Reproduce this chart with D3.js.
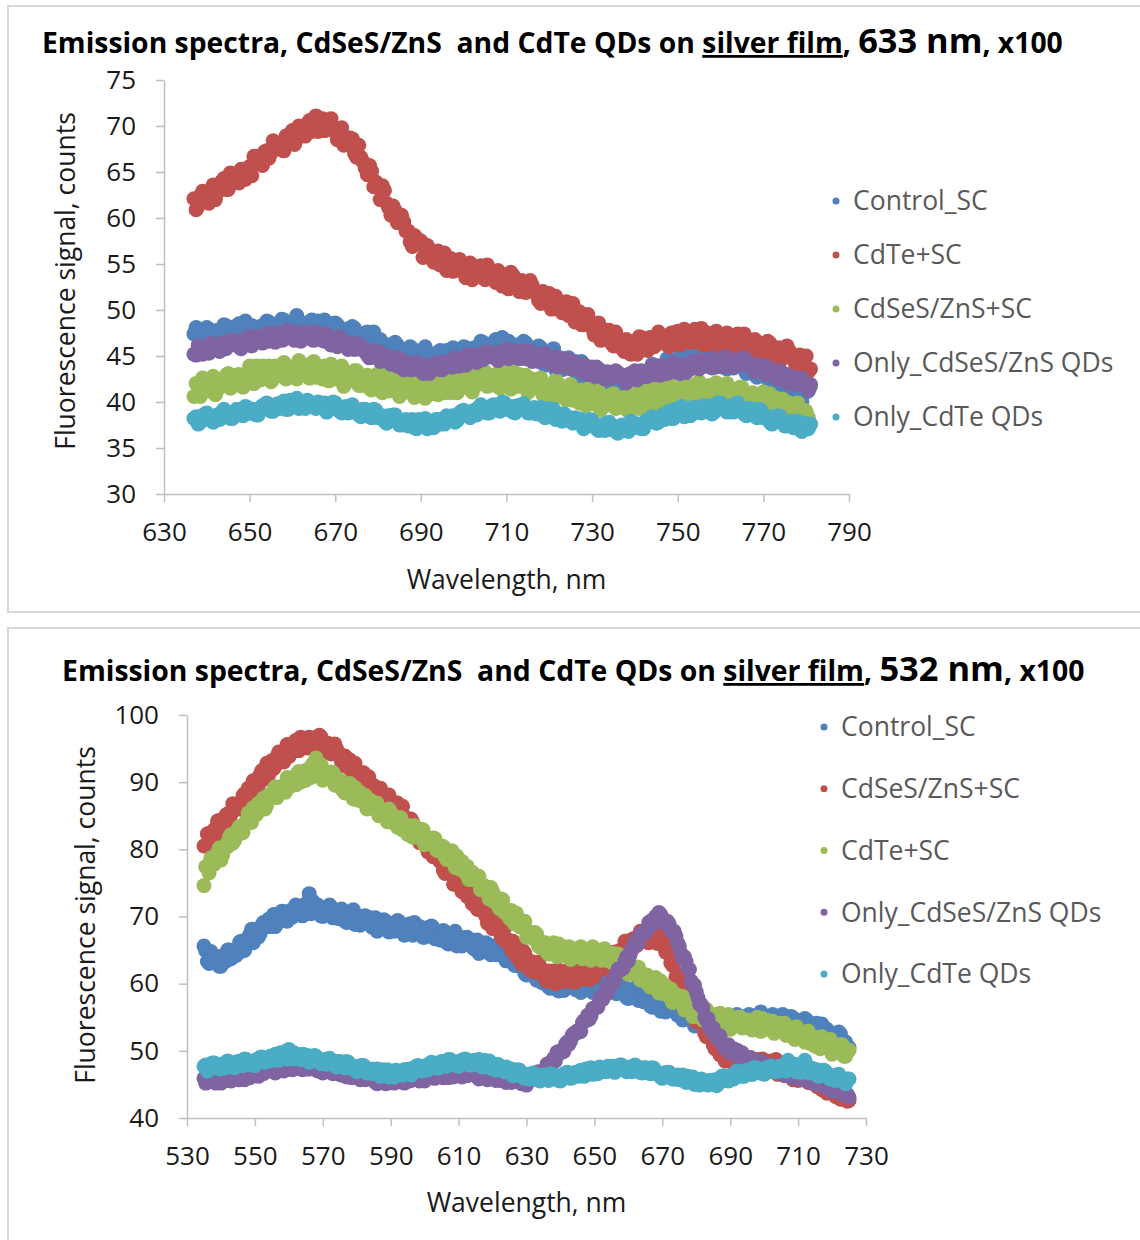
<!DOCTYPE html>
<html>
<head>
<meta charset="utf-8">
<script src="https://cdn.jsdelivr.net/npm/d3@7"></script>
<style>
  html, body { margin: 0; padding: 0; background: #fff; }
  svg { display: block; }
  text { font-family: "Open Sans", "Noto Sans", sans-serif; }
</style>
</head>
<body>
<svg id="fig" width="1140" height="1240"></svg>
<script>
// ---------- Upper chart: 633 nm excitation, spectra sampled every 0.5 nm from 637 nm ----------
const start633 = 637;
const step633 = 0.5;
const names633 = ["Control_SC", "CdTe+SC", "CdSeS/ZnS+SC", "Only_CdSeS/ZnS QDs", "Only_CdTe QDs"];
const xTicks633 = [630, 650, 670, 690, 710, 730, 750, 770, 790];
const yTicks633 = [30, 35, 40, 45, 50, 55, 60, 65, 70, 75];

const control633 = [
  47.4, 48.1, 46.2, 46.5, 47.9, 47.6, 48.1, 47.9, 46.8, 46.4, 47.5, 47.8, 46.7, 46.9, 48.4, 48.3, 47.1, 47.3, 46.6, 47.0,
  48.3, 48.5, 47.0, 46.9, 48.8, 48.0, 47.3, 48.3, 47.9, 46.8, 46.8, 48.2, 48.3, 47.3, 48.8, 48.7, 47.2, 47.7, 47.9, 47.4,
  47.5, 49.0, 48.9, 47.3, 47.2, 48.5, 48.6, 48.8, 49.4, 47.2, 48.0, 48.6, 47.4, 47.7, 48.7, 48.9, 48.0, 47.9, 48.8, 47.5,
  48.2, 48.9, 46.9, 47.1, 48.5, 48.2, 48.6, 48.4, 47.2, 46.6, 47.6, 47.9, 46.7, 46.8, 48.2, 48.0, 46.7, 46.8, 46.0, 46.3,
  47.5, 47.6, 46.0, 45.8, 47.6, 46.7, 45.9, 46.8, 46.3, 45.0, 44.9, 46.2, 46.2, 45.1, 46.5, 46.2, 44.6, 45.1, 45.2, 44.6,
  44.6, 46.0, 45.8, 44.2, 44.0, 45.2, 45.2, 45.4, 46.0, 43.8, 44.6, 45.2, 44.0, 44.3, 45.4, 45.6, 44.7, 44.7, 45.6, 44.3,
  45.1, 45.9, 44.0, 44.3, 45.7, 45.5, 46.0, 45.9, 44.8, 44.4, 45.5, 45.9, 44.8, 45.1, 46.6, 46.5, 45.3, 45.6, 44.9, 45.2,
  46.5, 46.8, 45.3, 45.1, 47.0, 46.3, 45.6, 46.6, 46.1, 44.9, 44.8, 46.2, 46.2, 45.2, 46.6, 46.4, 44.8, 45.3, 45.4, 44.7,
  44.7, 46.1, 45.9, 44.2, 44.0, 45.2, 45.2, 45.3, 45.8, 43.5, 44.2, 44.8, 43.5, 43.7, 44.7, 44.8, 43.8, 43.6, 44.4, 43.0,
  43.7, 44.4, 42.4, 42.5, 43.8, 43.4, 43.8, 43.5, 42.3, 41.7, 42.7, 42.9, 41.7, 41.8, 43.2, 42.9, 41.6, 41.8, 41.0, 41.3,
  42.5, 42.7, 41.1, 41.0, 43.0, 42.4, 41.8, 42.9, 42.6, 41.5, 41.6, 43.1, 43.3, 42.5, 44.1, 44.0, 42.6, 43.2, 43.5, 43.0,
  43.2, 44.7, 44.6, 43.1, 43.1, 44.4, 44.6, 44.9, 45.5, 43.4, 44.2, 44.8, 43.6, 44.0, 45.1, 45.4, 44.5, 44.4, 45.3, 44.0,
  44.8, 45.6, 43.7, 43.9, 45.3, 45.0, 45.5, 45.3, 44.1, 43.6, 44.6, 44.9, 43.7, 43.9, 45.3, 45.1, 43.8, 43.9, 43.1, 43.3,
  44.5, 44.6, 43.0, 42.7, 44.5, 43.6, 42.8, 43.7, 43.2, 41.9, 41.7, 43.0, 43.0, 41.9, 43.2, 42.9, 41.2, 41.6, 41.7, 41.0,
  40.9, 42.2, 42.0, 40.3, 40.0, 41.1, 41.1, 41.2, 41.7
];
const cdteSC633 = [
  62.1, 60.9, 61.3, 62.4, 62.9, 62.3, 62.0, 61.6, 62.8, 63.6, 62.0, 62.8, 63.6, 64.0, 64.3, 63.1, 63.1, 64.9, 64.0, 64.1,
  63.9, 63.8, 65.3, 65.3, 64.2, 65.3, 65.6, 64.6, 66.7, 66.7, 65.9, 66.0, 65.7, 67.2, 67.3, 66.5, 67.1, 68.4, 68.1, 67.6,
  68.1, 67.4, 67.3, 68.9, 69.0, 68.8, 69.5, 68.0, 68.6, 70.0, 69.4, 69.1, 68.9, 70.2, 70.6, 69.4, 69.7, 71.1, 69.4, 70.1,
  70.8, 69.5, 69.7, 70.6, 70.8, 69.9, 69.3, 68.5, 69.4, 69.8, 67.9, 68.3, 68.7, 68.7, 68.6, 67.0, 66.6, 67.9, 66.6, 66.1,
  65.4, 64.7, 65.7, 65.1, 63.4, 63.9, 63.6, 62.0, 63.5, 63.0, 61.6, 61.1, 60.3, 61.3, 60.8, 59.5, 59.5, 60.3, 59.6, 58.6,
  58.6, 57.4, 56.9, 58.1, 57.8, 57.2, 57.5, 55.7, 56.0, 57.0, 56.1, 55.6, 55.2, 56.3, 56.4, 54.9, 55.0, 56.2, 54.3, 55.0,
  55.6, 54.2, 54.3, 55.2, 55.5, 54.7, 54.2, 53.5, 54.5, 55.1, 53.3, 53.9, 54.5, 54.7, 54.8, 53.5, 53.3, 54.9, 53.8, 53.7,
  53.3, 53.0, 54.3, 54.0, 52.6, 53.5, 53.6, 52.3, 54.1, 53.8, 52.7, 52.5, 52.0, 53.2, 53.0, 51.9, 52.2, 53.2, 52.7, 51.9,
  52.0, 51.0, 50.7, 52.0, 51.8, 51.3, 51.8, 50.1, 50.4, 51.5, 50.7, 50.2, 49.7, 50.8, 50.9, 49.4, 49.5, 50.7, 48.7, 49.3,
  49.8, 48.4, 48.4, 49.3, 49.5, 48.6, 48.0, 47.3, 48.2, 48.6, 46.7, 47.2, 47.7, 47.8, 47.8, 46.4, 46.1, 47.6, 46.5, 46.3,
  45.8, 45.5, 46.8, 46.6, 45.2, 46.1, 46.3, 45.2, 47.1, 47.0, 46.0, 46.0, 45.6, 47.0, 46.9, 46.0, 46.4, 47.6, 47.3, 46.7,
  47.0, 46.2, 46.0, 47.5, 47.5, 47.1, 47.7, 46.2, 46.7, 47.9, 47.2, 46.8, 46.5, 47.7, 47.9, 46.5, 46.7, 48.0, 46.2, 46.9,
  47.5, 46.2, 46.4, 47.4, 47.7, 46.9, 46.5, 45.9, 46.9, 47.5, 45.8, 46.4, 47.0, 47.2, 47.4, 46.0, 45.8, 47.4, 46.3, 46.2,
  45.8, 45.5, 46.8, 46.5, 45.1, 46.0, 46.1, 44.8, 46.6, 46.4, 45.3, 45.2, 44.7, 45.9, 45.7, 44.7, 45.0, 46.1, 45.6, 44.9,
  45.1, 44.1, 43.8, 45.1, 45.0, 44.5, 45.0, 43.3, 43.6
];
const cdsesSC633 = [
  40.6, 42.0, 41.9, 40.6, 42.6, 41.8, 41.2, 41.3, 42.4, 42.8, 40.8, 41.3, 42.2, 42.3, 41.8, 42.9, 43.1, 41.5, 41.7, 42.4,
  42.9, 43.0, 41.8, 41.6, 42.8, 42.9, 43.9, 42.4, 42.0, 43.9, 43.3, 42.4, 43.9, 43.4, 42.7, 43.9, 42.2, 42.5, 43.9, 43.4,
  43.1, 43.9, 44.3, 42.5, 42.8, 43.6, 43.8, 43.1, 42.5, 44.5, 44.2, 42.9, 43.9, 43.8, 42.6, 44.2, 44.4, 42.7, 43.0, 43.4,
  42.5, 43.9, 43.6, 42.3, 44.1, 43.3, 42.5, 42.6, 43.5, 43.9, 41.7, 42.2, 42.9, 43.0, 42.3, 43.4, 43.4, 41.8, 41.8, 42.5,
  42.8, 42.9, 41.5, 41.3, 42.2, 42.3, 43.1, 41.6, 41.0, 42.9, 42.1, 41.2, 42.5, 42.0, 41.3, 42.5, 40.6, 40.9, 42.1, 41.6,
  41.3, 42.1, 42.3, 40.5, 40.8, 41.6, 41.7, 41.0, 40.4, 42.4, 42.2, 40.9, 41.9, 41.8, 40.8, 42.4, 42.7, 41.0, 41.5, 41.9,
  41.0, 42.4, 42.3, 41.0, 43.0, 42.2, 41.6, 41.7, 42.8, 43.2, 41.1, 41.6, 42.5, 42.6, 42.0, 43.1, 43.3, 41.7, 41.8, 42.5,
  42.9, 43.0, 41.7, 41.5, 42.5, 42.6, 43.5, 42.0, 41.4, 43.3, 42.6, 41.7, 43.0, 42.5, 41.7, 42.9, 41.0, 41.3, 42.5, 42.0,
  41.6, 42.4, 42.6, 40.8, 41.0, 41.8, 41.8, 41.1, 40.4, 42.4, 42.0, 40.6, 41.5, 41.4, 40.2, 41.8, 41.9, 40.2, 40.5, 40.9,
  39.9, 41.3, 40.9, 39.6, 41.4, 40.6, 39.8, 39.9, 40.8, 41.2, 39.1, 39.6, 40.3, 40.4, 39.7, 40.8, 40.9, 39.3, 39.4, 40.0,
  40.4, 40.5, 39.2, 39.0, 40.1, 40.2, 41.2, 39.8, 39.3, 41.2, 40.6, 39.7, 41.2, 40.7, 40.1, 41.4, 39.6, 40.0, 41.4, 40.9,
  40.7, 41.5, 41.9, 40.1, 40.4, 41.2, 41.4, 40.7, 40.1, 42.1, 41.8, 40.5, 41.6, 41.5, 40.4, 42.0, 42.2, 40.5, 40.9, 41.3,
  40.4, 41.8, 41.5, 40.2, 42.1, 41.3, 40.6, 40.7, 41.6, 42.0, 39.8, 40.3, 41.1, 41.2, 40.5, 41.6, 41.6, 40.0, 40.0, 40.7,
  40.9, 41.0, 39.6, 39.4, 40.2, 40.3, 41.1, 39.6, 39.0, 40.9, 40.1, 39.2, 40.4, 39.9, 39.1, 40.3, 38.4, 38.7, 39.9, 39.4,
  38.9, 39.7, 39.9, 38.1, 38.3, 39.1, 39.0, 38.3, 37.6
];
const onlyCdses633 = [
  45.2, 45.1, 46.1, 45.9, 45.2, 45.7, 46.0, 45.3, 46.4, 46.2, 45.8, 45.8, 45.5, 46.3, 46.4, 45.8, 46.1, 46.7, 46.7, 46.3,
  46.5, 46.0, 45.8, 46.7, 46.8, 46.5, 47.1, 46.1, 46.4, 47.1, 46.9, 46.7, 46.4, 47.1, 47.5, 46.6, 46.8, 47.5, 46.5, 47.0,
  47.5, 46.7, 46.8, 47.4, 47.8, 47.2, 47.0, 46.7, 47.3, 47.6, 46.6, 47.1, 47.5, 47.5, 47.6, 46.8, 46.7, 47.6, 47.0, 47.0,
  46.7, 46.6, 47.4, 47.1, 46.2, 46.7, 46.8, 46.0, 47.1, 46.8, 46.3, 46.2, 45.7, 46.4, 46.4, 45.7, 45.8, 46.3, 46.1, 45.6,
  45.7, 45.1, 44.8, 45.6, 45.5, 45.1, 45.5, 44.4, 44.5, 45.1, 44.8, 44.5, 44.1, 44.7, 44.9, 43.9, 44.0, 44.6, 43.5, 43.9,
  44.3, 43.5, 43.5, 44.1, 44.3, 43.6, 43.4, 43.1, 43.7, 44.0, 43.1, 43.7, 44.1, 44.1, 44.3, 43.5, 43.5, 44.4, 44.0, 44.0,
  43.8, 43.8, 44.8, 44.6, 43.9, 44.4, 44.7, 44.0, 45.2, 45.0, 44.6, 44.6, 44.3, 45.1, 45.2, 44.6, 44.9, 45.5, 45.4, 45.0,
  45.2, 44.7, 44.5, 45.4, 45.5, 45.2, 45.7, 44.7, 44.9, 45.6, 45.2, 45.0, 44.7, 45.4, 45.6, 44.7, 44.8, 45.5, 44.4, 44.8,
  45.2, 44.4, 44.5, 45.1, 45.3, 44.6, 44.4, 44.1, 44.6, 44.9, 43.8, 44.3, 44.6, 44.6, 44.7, 43.8, 43.6, 44.4, 43.9, 43.8,
  43.5, 43.3, 44.1, 43.9, 43.0, 43.4, 43.5, 42.8, 43.8, 43.6, 43.0, 43.0, 42.5, 43.3, 43.2, 42.6, 42.8, 43.4, 43.2, 42.8,
  42.9, 42.4, 42.1, 43.0, 43.1, 42.8, 43.4, 42.4, 42.7, 43.4, 43.2, 43.1, 42.8, 43.5, 43.9, 43.0, 43.2, 43.9, 42.9, 43.4,
  43.9, 43.1, 43.2, 43.8, 44.2, 43.6, 43.4, 43.1, 43.8, 44.1, 43.2, 43.7, 44.2, 44.2, 44.5, 43.7, 43.6, 44.5, 44.1, 44.1,
  43.9, 43.8, 44.7, 44.5, 43.8, 44.3, 44.5, 43.8, 44.9, 44.7, 44.2, 44.2, 43.8, 44.6, 44.6, 44.0, 44.2, 44.8, 44.6, 44.1,
  44.1, 43.6, 43.3, 44.1, 44.0, 43.6, 44.0, 43.0, 43.1, 43.7, 43.3, 43.0, 42.6, 43.2, 43.4, 42.4, 42.4, 43.0, 42.0, 42.4,
  42.7, 41.9, 41.9, 42.5, 42.6, 41.9, 41.7, 41.3, 41.9
];
const onlyCdte633 = [
  38.2, 38.4, 37.6, 37.8, 38.5, 38.7, 38.8, 38.3, 38.0, 37.8, 38.5, 38.6, 38.1, 38.9, 39.2, 38.4, 38.4, 38.2, 38.2, 39.0,
  39.2, 39.1, 38.6, 38.5, 39.5, 39.4, 38.8, 39.0, 39.2, 38.6, 38.6, 39.4, 39.6, 39.7, 39.9, 39.2, 39.0, 39.0, 39.5, 39.8,
  39.3, 39.9, 40.1, 39.2, 39.2, 40.2, 39.9, 39.7, 40.4, 39.3, 39.7, 40.0, 39.3, 40.2, 40.0, 39.5, 39.6, 39.3, 40.0, 39.9,
  39.7, 39.9, 38.9, 39.1, 39.8, 40.0, 39.9, 39.4, 39.0, 38.8, 39.4, 39.5, 38.8, 39.6, 39.7, 38.9, 38.8, 38.6, 38.4, 39.2,
  39.2, 39.1, 38.4, 38.3, 39.2, 39.1, 38.3, 38.5, 38.5, 37.9, 37.7, 38.5, 38.5, 38.6, 38.6, 37.8, 37.5, 37.5, 37.8, 38.1,
  37.4, 38.0, 38.1, 37.2, 37.1, 38.1, 37.7, 37.5, 38.2, 37.1, 37.5, 37.8, 37.2, 38.1, 38.1, 37.6, 37.8, 37.6, 38.5, 38.4,
  38.3, 38.5, 37.8, 38.0, 38.8, 39.0, 39.1, 38.6, 38.5, 38.3, 39.0, 39.1, 38.6, 39.4, 39.7, 38.9, 39.0, 38.8, 38.8, 39.6,
  39.7, 39.6, 39.1, 39.0, 40.0, 39.9, 39.2, 39.4, 39.5, 38.9, 38.8, 39.6, 39.6, 39.7, 39.8, 39.1, 38.8, 38.8, 39.1, 39.4,
  38.7, 39.3, 39.4, 38.5, 38.3, 39.3, 38.9, 38.7, 39.2, 38.1, 38.4, 38.7, 37.9, 38.7, 38.5, 38.0, 38.0, 37.7, 38.3, 38.2,
  37.9, 38.1, 37.1, 37.3, 37.9, 38.1, 38.0, 37.5, 37.1, 36.9, 37.4, 37.5, 36.9, 37.7, 37.8, 37.0, 37.0, 36.8, 36.6, 37.4,
  37.5, 37.4, 36.9, 36.8, 37.9, 37.8, 37.2, 37.4, 37.6, 37.1, 37.1, 37.9, 38.1, 38.2, 38.4, 37.8, 37.7, 37.8, 38.2, 38.6,
  38.1, 38.7, 39.0, 38.2, 38.2, 39.2, 39.0, 38.8, 39.5, 38.4, 38.9, 39.2, 38.5, 39.4, 39.4, 38.9, 39.1, 38.8, 39.6, 39.5,
  39.4, 39.6, 38.7, 38.9, 39.7, 39.9, 39.9, 39.4, 39.1, 38.9, 39.5, 39.6, 38.9, 39.7, 39.9, 39.1, 39.0, 38.7, 38.5, 39.3,
  39.3, 39.2, 38.5, 38.3, 39.2, 39.1, 38.3, 38.4, 38.4, 37.8, 37.6, 38.4, 38.4, 38.5, 38.4, 37.7, 37.4, 37.4, 37.7, 37.9,
  37.2, 37.8, 37.9, 37.0, 36.8, 37.7, 37.3, 37.1, 37.6
];

// ---------- Lower chart: 532 nm excitation, spectra sampled every 0.5 nm from 535 nm ----------
const start532 = 535;
const step532 = 0.5;
const names532 = ["Control_SC", "CdSeS/ZnS+SC", "CdTe+SC", "Only_CdSeS/ZnS QDs", "Only_CdTe QDs"];
const xTicks532 = [530, 550, 570, 590, 610, 630, 650, 670, 690, 710, 730];
const yTicks532 = [40, 50, 60, 70, 80, 90, 100];

const control532 = [
  65.6, 64.9, 63.3, 63.0, 64.8, 63.9, 63.1, 64.1, 63.7, 62.6, 62.6, 64.1, 64.3, 63.4, 65.0, 65.0, 63.7, 64.4, 64.7, 64.2,
  64.5, 66.2, 66.3, 64.9, 65.0, 66.5, 66.8, 67.3, 68.1, 66.1, 67.1, 67.9, 66.9, 67.4, 68.7, 69.1, 68.4, 68.5, 69.6, 68.5,
  69.5, 70.3, 68.5, 68.9, 70.4, 70.2, 70.8, 70.7, 69.7, 69.3, 70.5, 70.9, 69.9, 70.2, 71.7, 71.6, 70.5, 70.8, 70.1, 70.5,
  71.9, 72.1, 73.4, 70.4, 72.3, 71.5, 70.7, 71.7, 71.3, 70.1, 70.0, 71.3, 71.3, 70.3, 71.7, 71.4, 69.8, 70.3, 70.4, 69.7,
  69.7, 71.1, 70.9, 69.3, 69.1, 70.3, 70.3, 70.5, 71.0, 68.8, 69.5, 70.0, 68.7, 69.0, 70.0, 70.1, 69.1, 69.0, 69.8, 68.4,
  69.1, 69.8, 67.8, 68.0, 69.4, 69.1, 69.5, 69.3, 68.2, 67.7, 68.7, 69.0, 67.8, 68.0, 69.4, 69.2, 67.9, 68.0, 67.2, 67.5,
  68.7, 68.9, 67.4, 67.2, 69.1, 68.3, 67.5, 68.5, 68.1, 66.9, 66.9, 68.3, 68.3, 67.2, 68.6, 68.3, 66.7, 67.1, 67.2, 66.5,
  66.5, 67.9, 67.7, 66.1, 65.9, 67.1, 67.1, 67.3, 67.8, 65.6, 66.4, 66.9, 65.6, 65.8, 66.8, 66.9, 65.9, 65.7, 66.5, 65.2,
  65.9, 66.5, 64.5, 64.7, 66.0, 65.7, 66.1, 65.9, 64.8, 64.3, 65.4, 65.6, 64.3, 64.4, 65.8, 65.5, 64.1, 64.2, 63.4, 63.6,
  64.7, 64.8, 63.1, 62.7, 64.4, 63.5, 62.6, 63.4, 62.8, 61.5, 61.3, 62.6, 62.5, 61.3, 62.6, 62.2, 60.5, 60.9, 60.9, 60.2,
  60.1, 61.4, 61.2, 59.5, 59.3, 60.4, 60.4, 60.6, 61.1, 58.9, 59.6, 60.2, 59.0, 59.3, 60.4, 60.6, 59.6, 59.5, 60.4, 59.1,
  59.9, 60.6, 58.7, 58.9, 60.3, 60.0, 60.5, 60.3, 59.2, 58.7, 59.8, 60.1, 59.0, 59.2, 60.6, 60.4, 59.2, 59.4, 58.6, 58.9,
  60.2, 60.4, 58.8, 58.5, 60.3, 59.5, 58.7, 59.6, 59.1, 57.9, 57.8, 59.1, 59.1, 58.0, 59.4, 59.1, 57.5, 57.9, 58.0, 57.3,
  57.3, 58.6, 58.4, 56.7, 56.5, 57.6, 57.6, 57.7, 58.2, 55.9, 56.6, 57.1, 55.8, 56.0, 57.0, 57.1, 56.1, 55.9, 56.7, 55.3,
  56.0, 56.6, 54.6, 54.7, 55.9, 55.5, 55.9, 55.6, 54.3, 53.7, 54.7, 55.0, 53.8, 54.0, 55.4, 55.2, 53.9, 54.1, 53.4, 53.7,
  54.9, 55.1, 53.6, 53.4, 55.3, 54.6, 53.9, 54.9, 54.5, 53.3, 53.3, 54.7, 54.8, 53.9, 55.4, 55.2, 53.7, 54.3, 54.5, 53.9,
  54.0, 55.4, 55.3, 53.8, 53.7, 54.9, 55.0, 55.2, 55.8, 53.6, 54.4, 55.0, 53.8, 54.1, 55.2, 55.4, 54.5, 54.4, 55.2, 53.9,
  54.7, 55.4, 53.4, 53.6, 55.0, 54.7, 55.1, 54.9, 53.7, 53.2, 54.2, 54.5, 53.3, 53.4, 54.8, 54.6, 53.3, 53.4, 52.6, 52.8,
  54.0, 54.1, 52.5, 52.2, 54.0, 53.1, 52.3, 53.2, 52.7, 51.4, 51.3, 52.6, 52.5, 51.4, 52.8, 52.5, 50.8, 51.2, 51.3, 50.6,
  50.5
];
const cdsesSC532 = [
  80.5, 80.5, 82.3, 82.4, 81.1, 82.4, 82.9, 81.7, 84.2, 84.3, 83.3, 83.4, 83.3, 85.1, 85.3, 84.4, 85.2, 86.8, 86.6, 86.1,
  86.7, 86.0, 86.1, 88.0, 88.3, 88.1, 89.1, 87.5, 88.4, 90.2, 89.6, 89.4, 89.4, 91.1, 91.7, 90.4, 90.9, 92.8, 91.0, 92.1,
  93.2, 92.0, 92.4, 93.8, 94.5, 93.8, 93.5, 93.0, 94.5, 95.6, 93.8, 94.5, 95.5, 95.8, 96.2, 94.7, 94.7, 96.7, 95.6, 95.6,
  95.3, 95.1, 96.7, 96.6, 95.1, 96.1, 96.4, 94.8, 97.0, 96.7, 95.3, 95.0, 94.4, 95.8, 95.5, 94.2, 94.5, 95.7, 95.0, 94.1,
  94.2, 93.0, 92.5, 93.9, 93.6, 92.9, 93.3, 91.2, 91.5, 92.8, 91.6, 90.8, 90.2, 91.4, 91.4, 89.5, 89.4, 90.8, 88.4, 89.0,
  89.5, 87.8, 87.8, 88.8, 89.1, 87.9, 87.2, 86.4, 87.5, 88.1, 85.9, 86.3, 86.9, 86.9, 86.9, 85.1, 84.7, 86.4, 84.9, 84.6,
  83.9, 83.3, 84.5, 84.0, 82.2, 82.9, 82.8, 81.0, 82.9, 82.4, 80.8, 80.3, 79.6, 80.8, 80.4, 78.9, 79.1, 80.1, 79.3, 78.2,
  78.2, 76.9, 76.4, 77.7, 77.4, 76.6, 77.0, 74.8, 75.1, 76.3, 75.1, 74.3, 73.7, 74.9, 74.9, 73.0, 72.9, 74.3, 71.9, 72.4,
  72.9, 71.1, 71.0, 71.9, 72.1, 70.8, 70.0, 69.0, 70.0, 70.5, 68.2, 68.5, 69.1, 69.0, 69.0, 67.1, 66.6, 68.2, 66.7, 66.3,
  65.6, 65.0, 66.3, 65.8, 64.0, 64.7, 64.7, 62.9, 64.9, 64.5, 63.0, 62.6, 62.0, 63.3, 63.0, 61.7, 62.0, 63.2, 62.5, 61.6,
  61.8, 60.7, 60.4, 61.9, 61.8, 61.3, 61.9, 60.0, 60.5, 62.0, 61.1, 60.6, 60.3, 61.7, 62.0, 60.5, 60.7, 62.3, 60.2, 61.1,
  61.9, 60.5, 60.7, 62.0, 62.6, 61.7, 61.2, 60.6, 62.0, 62.9, 61.0, 61.8, 62.8, 63.2, 63.6, 62.2, 62.2, 64.3, 63.2, 63.3,
  63.0, 62.9, 64.7, 64.7, 63.4, 64.6, 65.1, 63.8, 66.3, 66.3, 65.3, 65.3, 65.0, 66.7, 66.7, 65.7, 66.3, 67.8, 67.4, 66.7,
  67.1, 66.2, 66.1, 67.8, 67.8, 67.3, 68.0, 66.0, 66.4, 67.6, 66.4, 65.5, 64.7, 65.6, 65.3, 63.1, 62.7, 63.7, 61.0, 61.2,
  61.4, 59.3, 58.9, 59.6, 59.5, 58.0, 56.9, 55.7, 56.5, 56.8, 54.3, 54.5, 54.9, 54.7, 54.6, 52.6, 52.1, 53.7, 52.1, 51.7,
  50.9, 50.3, 51.6, 51.2, 49.4, 50.2, 50.2, 48.5, 50.6, 50.2, 48.8, 48.5, 48.0, 49.4, 49.2, 47.9, 48.3, 49.6, 49.0, 48.2,
  48.4, 47.4, 47.1, 48.7, 48.6, 48.1, 48.7, 46.8, 47.3, 48.8, 47.8, 47.3, 46.9, 48.3, 48.5, 46.9, 47.1, 48.7, 46.5, 47.3,
  48.0, 46.5, 46.6, 47.7, 48.1, 47.1, 46.5, 45.7, 46.9, 47.7, 45.6, 46.1, 46.9, 47.0, 47.2, 45.5, 45.3, 47.1, 45.8, 45.6,
  45.1, 44.7, 46.2, 45.9, 44.2, 45.1, 45.3, 43.7, 45.8, 45.5, 44.1, 43.8, 43.2, 44.5, 44.2, 42.8, 43.1, 44.2, 43.5, 42.5,
  42.6
];
const cdteSC532 = [
  74.6, 77.4, 77.5, 76.5, 78.7, 78.2, 77.8, 78.2, 79.5, 80.2, 78.4, 79.2, 80.3, 80.7, 80.4, 81.8, 82.2, 80.9, 81.3, 82.3,
  83.0, 83.4, 82.4, 82.5, 83.8, 84.2, 85.4, 84.2, 84.0, 86.2, 85.8, 85.2, 86.8, 86.6, 86.1, 87.6, 86.0, 86.6, 88.1, 87.9,
  87.8, 88.8, 89.3, 87.7, 88.2, 89.2, 89.4, 88.9, 88.5, 90.7, 90.5, 89.4, 90.5, 90.6, 89.6, 91.3, 91.6, 90.0, 90.5, 91.1,
  90.3, 91.9, 91.8, 90.7, 92.7, 92.1, 93.6, 91.5, 92.4, 92.6, 90.3, 90.7, 91.3, 91.3, 90.5, 91.5, 91.4, 89.6, 89.5, 90.1,
  90.3, 90.2, 88.7, 88.4, 89.2, 89.1, 89.8, 88.2, 87.5, 89.2, 88.3, 87.3, 88.5, 87.9, 87.0, 88.0, 86.0, 86.2, 87.3, 86.6,
  86.1, 86.8, 86.9, 85.0, 85.1, 85.8, 85.7, 84.9, 84.1, 86.0, 85.5, 84.0, 84.8, 84.6, 83.3, 84.7, 84.7, 82.9, 83.1, 83.3,
  82.2, 83.5, 83.2, 81.8, 83.5, 82.6, 81.8, 81.8, 82.6, 82.9, 80.7, 81.0, 81.6, 81.6, 80.8, 81.7, 81.6, 79.9, 79.8, 80.3,
  80.5, 80.4, 78.9, 78.5, 79.2, 79.1, 79.8, 78.1, 77.3, 79.0, 78.1, 77.0, 78.2, 77.5, 76.5, 77.5, 75.5, 75.6, 76.6, 75.9,
  75.4, 76.0, 76.0, 74.0, 74.0, 74.6, 74.4, 73.5, 72.6, 74.3, 73.7, 72.2, 72.9, 72.6, 71.2, 72.6, 72.5, 70.6, 70.7, 70.9,
  69.7, 70.9, 70.4, 68.9, 70.5, 69.5, 68.5, 68.4, 69.1, 69.3, 66.9, 67.2, 67.7, 67.6, 66.7, 67.6, 67.4, 65.6, 65.4, 65.9,
  66.1, 66.1, 64.7, 64.4, 65.3, 65.3, 66.1, 64.6, 64.0, 65.9, 65.1, 64.2, 65.5, 65.0, 64.3, 65.5, 63.6, 63.9, 65.2, 64.7,
  64.4, 65.2, 65.5, 63.7, 63.9, 64.7, 64.8, 64.1, 63.5, 65.5, 65.2, 63.9, 64.8, 64.7, 63.5, 65.1, 65.2, 63.5, 63.8, 64.2,
  63.2, 64.5, 64.1, 62.7, 64.4, 63.5, 62.6, 62.6, 63.4, 63.7, 61.4, 61.8, 62.4, 62.3, 61.5, 62.5, 62.4, 60.6, 60.5, 61.1,
  61.3, 61.3, 59.8, 59.5, 60.3, 60.2, 60.9, 59.3, 58.6, 60.4, 59.5, 58.5, 59.7, 59.0, 58.1, 59.2, 57.2, 57.3, 58.4, 57.8,
  57.3, 58.0, 58.1, 56.1, 56.2, 56.9, 56.8, 55.9, 55.1, 57.0, 56.5, 55.1, 56.0, 55.8, 54.6, 56.1, 56.2, 54.4, 54.7, 55.0,
  54.0, 55.4, 55.1, 53.8, 55.6, 54.8, 54.0, 54.1, 55.0, 55.4, 53.2, 53.7, 54.4, 54.5, 53.9, 55.0, 55.0, 53.4, 53.5, 54.2,
  54.5, 54.6, 53.3, 53.1, 54.0, 54.1, 55.0, 53.5, 52.9, 54.8, 54.1, 53.2, 54.5, 54.0, 53.2, 54.4, 52.6, 52.9, 54.1, 53.6,
  53.2, 53.9, 54.1, 52.3, 52.5, 53.2, 53.2, 52.4, 51.7, 53.6, 53.2, 51.8, 52.7, 52.5, 51.3, 52.8, 52.9, 51.1, 51.4, 51.7,
  50.7, 52.0, 51.7, 50.3, 52.1, 51.3, 50.5, 50.5, 51.4, 51.7, 49.5, 49.9, 50.6, 50.6, 49.9, 50.9, 50.9, 49.2, 49.2, 49.8,
  50.1
];
const onlyCdses532 = [
  45.9, 45.2, 45.3, 45.9, 46.2, 45.7, 45.5, 45.2, 45.8, 46.2, 45.2, 45.7, 46.1, 46.2, 46.4, 45.6, 45.5, 46.5, 46.0, 46.0,
  45.7, 45.7, 46.6, 46.5, 45.7, 46.3, 46.6, 46.0, 47.1, 47.0, 46.5, 46.6, 46.2, 47.1, 47.1, 46.6, 46.9, 47.6, 47.5, 47.2,
  47.3, 46.9, 46.7, 47.7, 47.7, 47.5, 48.0, 47.0, 47.2, 48.0, 47.7, 47.5, 47.2, 47.9, 48.2, 47.4, 47.5, 48.2, 47.2, 47.7,
  48.1, 47.3, 47.3, 47.9, 48.1, 47.5, 47.3, 47.0, 47.5, 47.8, 46.7, 47.2, 47.5, 47.5, 47.6, 46.8, 46.6, 47.5, 46.9, 46.9,
  46.5, 46.4, 47.2, 47.0, 46.1, 46.6, 46.7, 46.0, 47.0, 46.8, 46.2, 46.2, 45.7, 46.5, 46.4, 45.7, 45.8, 46.4, 46.2, 45.8,
  45.8, 45.3, 45.1, 46.0, 45.9, 45.6, 46.1, 45.1, 45.2, 45.9, 45.6, 45.5, 45.2, 45.9, 46.2, 45.4, 45.5, 46.2, 45.2, 45.8,
  46.2, 45.5, 45.6, 46.2, 46.5, 46.0, 45.8, 45.5, 46.1, 46.5, 45.5, 46.1, 46.5, 46.5, 46.7, 46.0, 45.9, 46.8, 46.3, 46.4,
  46.1, 46.0, 46.9, 46.8, 46.0, 46.5, 46.7, 46.1, 47.2, 47.0, 46.5, 46.5, 46.1, 46.9, 46.9, 46.3, 46.4, 47.0, 46.9, 46.5,
  46.6, 46.1, 45.8, 46.7, 46.6, 46.3, 46.7, 45.7, 45.9, 46.6, 46.2, 46.0, 45.6, 46.3, 46.5, 45.6, 45.6, 46.3, 45.3, 45.8,
  46.1, 45.3, 45.4, 46.0, 46.2, 45.6, 45.4, 45.1, 45.6, 45.9, 44.9, 45.5, 46.0, 46.1, 46.4, 45.8, 45.8, 46.9, 46.6, 46.8,
  46.7, 46.9, 48.0, 48.1, 47.6, 48.4, 48.9, 48.5, 49.8, 49.9, 49.7, 50.0, 49.9, 51.0, 51.3, 51.0, 51.5, 52.4, 52.6, 52.6,
  53.0, 52.8, 52.9, 54.2, 54.5, 54.5, 55.3, 54.7, 55.2, 56.3, 56.3, 56.5, 56.5, 57.6, 58.2, 57.7, 58.2, 59.3, 58.7, 59.6,
  60.4, 60.0, 60.5, 61.5, 62.2, 62.0, 62.2, 62.3, 63.3, 64.0, 63.4, 64.3, 65.1, 65.6, 66.2, 65.8, 66.1, 67.4, 67.3, 67.6,
  67.6, 67.9, 69.1, 69.3, 68.8, 69.6, 70.0, 69.4, 70.6, 70.3, 69.7, 69.5, 68.8, 69.3, 68.9, 67.9, 67.7, 67.8, 67.1, 66.1,
  65.6, 64.5, 63.7, 64.0, 63.3, 62.3, 62.1, 60.4, 59.8, 59.8, 58.8, 57.9, 56.9, 56.9, 56.4, 55.0, 54.5, 54.8, 53.3, 53.4,
  53.4, 52.3, 52.0, 52.3, 52.2, 51.3, 50.8, 50.3, 50.7, 50.9, 49.7, 50.1, 50.3, 50.1, 50.1, 49.2, 48.9, 49.7, 49.0, 48.9,
  48.4, 48.2, 49.0, 48.7, 47.8, 48.2, 48.3, 47.5, 48.5, 48.2, 47.6, 47.6, 47.1, 47.9, 47.8, 47.1, 47.2, 47.8, 47.6, 47.1,
  47.1, 46.6, 46.3, 47.1, 47.0, 46.7, 47.1, 46.0, 46.1, 46.8, 46.4, 46.1, 45.7, 46.4, 46.6, 45.6, 45.6, 46.3, 45.2, 45.6,
  45.9, 45.0, 45.0, 45.5, 45.7, 45.1, 44.8, 44.4, 44.9, 45.1, 44.0, 44.4, 44.6, 44.5, 44.6, 43.7, 43.5, 44.3, 43.6, 43.5,
  43.1
];
const onlyCdte532 = [
  47.7, 47.9, 47.0, 47.3, 48.0, 48.2, 48.2, 47.8, 47.5, 47.3, 47.9, 48.0, 47.4, 48.3, 48.5, 47.7, 47.7, 47.6, 47.5, 48.3,
  48.4, 48.4, 47.8, 47.8, 48.8, 48.7, 48.0, 48.3, 48.4, 47.9, 47.8, 48.7, 48.8, 49.0, 49.1, 48.5, 48.3, 48.4, 48.8, 49.2,
  48.6, 49.3, 49.5, 48.7, 48.6, 49.7, 49.4, 49.3, 49.9, 48.8, 50.2, 49.5, 48.8, 49.7, 49.5, 49.0, 49.0, 48.7, 49.5, 49.4,
  49.1, 49.3, 48.3, 48.5, 49.1, 49.3, 49.2, 48.7, 48.3, 48.1, 48.6, 48.7, 48.0, 48.8, 48.9, 48.1, 48.0, 47.8, 47.6, 48.4,
  48.4, 48.3, 47.6, 47.5, 48.4, 48.3, 47.5, 47.7, 47.7, 47.1, 46.9, 47.7, 47.7, 47.8, 47.8, 47.0, 46.7, 46.7, 47.0, 47.3,
  46.6, 47.2, 47.3, 46.4, 46.2, 47.2, 46.8, 46.6, 47.2, 46.1, 46.4, 46.8, 46.1, 47.1, 47.0, 46.6, 46.7, 46.4, 47.2, 47.2,
  47.0, 47.3, 46.4, 46.7, 47.4, 47.7, 47.8, 47.4, 47.1, 47.0, 47.6, 47.8, 47.2, 48.1, 48.3, 47.6, 47.6, 47.5, 47.4, 48.3,
  48.4, 48.4, 47.8, 47.7, 48.7, 48.7, 48.0, 48.2, 48.3, 47.8, 47.7, 48.5, 48.6, 48.7, 48.8, 48.1, 47.9, 47.9, 48.3, 48.6,
  48.0, 48.6, 48.7, 47.8, 47.6, 48.6, 48.2, 48.0, 48.5, 47.4, 47.7, 47.9, 47.1, 48.0, 47.8, 47.2, 47.2, 46.9, 47.6, 47.4,
  47.1, 47.3, 46.3, 46.4, 47.0, 47.2, 47.1, 46.5, 46.1, 45.9, 46.4, 46.5, 45.8, 46.6, 46.7, 45.9, 45.9, 45.7, 45.5, 46.3,
  46.4, 46.3, 45.7, 45.6, 46.6, 46.5, 45.8, 46.1, 46.2, 45.6, 45.5, 46.4, 46.5, 46.7, 46.8, 46.1, 45.9, 46.0, 46.4, 46.8,
  46.2, 46.9, 47.1, 46.3, 46.2, 47.3, 47.0, 46.9, 47.5, 46.5, 46.9, 47.3, 46.6, 47.6, 47.5, 47.0, 47.1, 46.9, 47.7, 47.7,
  47.5, 47.7, 46.8, 47.0, 47.7, 47.9, 47.9, 47.4, 47.1, 46.9, 47.5, 47.6, 46.9, 47.7, 47.9, 47.1, 47.0, 46.8, 46.7, 47.5,
  47.5, 47.4, 46.7, 46.6, 47.5, 47.4, 46.6, 46.7, 46.7, 46.1, 45.9, 46.7, 46.7, 46.8, 46.8, 46.1, 45.8, 45.8, 46.1, 46.4,
  45.7, 46.3, 46.4, 45.5, 45.3, 46.2, 45.8, 45.6, 46.1, 45.0, 45.3, 45.6, 44.9, 45.8, 45.6, 45.1, 45.2, 44.9, 45.6, 45.6,
  45.4, 45.7, 44.8, 45.1, 45.9, 46.2, 46.3, 45.9, 45.6, 45.5, 46.2, 46.4, 45.8, 46.7, 47.0, 46.3, 46.3, 46.2, 46.2, 47.0,
  47.1, 47.1, 46.5, 46.5, 47.5, 47.5, 46.8, 47.0, 47.1, 46.6, 46.5, 47.4, 47.5, 47.6, 47.7, 47.1, 46.9, 46.9, 47.3, 47.7,
  47.1, 47.7, 47.9, 47.0, 48.6, 47.9, 47.6, 47.4, 48.0, 46.9, 47.3, 47.6, 46.8, 47.7, 48.6, 47.0, 47.0, 46.7, 47.4, 47.3,
  47.0, 47.2, 46.2, 46.3, 46.9, 47.1, 47.0, 46.5, 46.1, 45.8, 46.3, 46.3, 45.6, 46.4, 46.5, 45.6, 45.5, 45.3, 45.1, 45.8,
  45.8
];

// Office-style series colours, in series order
const seriesColors = ["#4F81BD", "#C0504D", "#9BBB59", "#8064A2", "#4BACC6"];

const svg = d3.select("#fig");

function drawTitle(g, parts, x, baseline, targetWidth) {
  const t = g.append("text")
    .attr("x", 0).attr("y", 0)
    .style("white-space", "pre")
    .attr("font-weight", "bold")
    .attr("fill", "#000");
  parts.forEach(p => {
    t.append("tspan")
      .text(p.text)
      .style("font-size", p.big ? "34px" : "28px")
      .style("text-decoration", p.underline ? "underline" : null);
  });
  const w = t.node().getComputedTextLength();
  t.attr("transform", `translate(${x},${baseline}) scale(${targetWidth / w},1)`);
}

function drawChart(cfg) {
  const g = svg.append("g");

  // panel frame
  g.append("rect")
    .attr("x", cfg.frame[0]).attr("y", cfg.frame[1])
    .attr("width", cfg.frame[2]).attr("height", cfg.frame[3])
    .attr("fill", "#fff").attr("stroke", "#d9d9d9").attr("stroke-width", 2);

  const x = d3.scaleLinear()
    .domain([cfg.xTicks[0], cfg.xTicks[cfg.xTicks.length - 1]])
    .range([cfg.left, cfg.right]);
  const y = d3.scaleLinear()
    .domain([cfg.yTicks[0], cfg.yTicks[cfg.yTicks.length - 1]])
    .range([cfg.bottom, cfg.top]);

  const gx = g.append("g")
    .attr("transform", `translate(0,${cfg.bottom})`)
    .call(d3.axisBottom(x).tickValues(cfg.xTicks).tickFormat(d3.format("d"))
      .tickSize(8).tickSizeOuter(0).tickPadding(21));
  const gy = g.append("g")
    .attr("transform", `translate(${cfg.left},0)`)
    .call(d3.axisLeft(y).tickValues(cfg.yTicks).tickFormat(d3.format("d"))
      .tickSize(8).tickSizeOuter(0).tickPadding(20));
  [gx, gy].forEach(a => {
    a.select(".domain").attr("stroke", "#bfbfbf").attr("stroke-width", 1.5);
    a.selectAll(".tick line").attr("stroke", "#bfbfbf").attr("stroke-width", 1.5);
    a.selectAll(".tick text").attr("fill", "#1a1a1a").style("font-size", "26px");
  });

  // spectra as dense scatter markers
  cfg.series.forEach((vals, si) => {
    const pts = vals.map((v, i) => [cfg.start + i * cfg.step, v]);
    g.append("g")
      .attr("fill", seriesColors[si])
      .selectAll("circle")
      .data(pts)
      .join("circle")
      .attr("cx", d => x(d[0]))
      .attr("cy", d => y(d[1]))
      .attr("r", 7.5);
  });

  // axis titles
  g.append("text")
    .attr("x", (cfg.left + cfg.right) / 2).attr("y", cfg.xTitleY)
    .attr("text-anchor", "middle").attr("fill", "#1a1a1a")
    .style("font-size", "26.5px")
    .text("Wavelength, nm");
  g.append("text")
    .attr("transform", `translate(${cfg.yTitle[0]},${cfg.yTitle[1]}) rotate(-90)`)
    .attr("text-anchor", "middle").attr("dy", "0.35em").attr("fill", "#1a1a1a")
    .style("font-size", "26.5px")
    .text("Fluorescence signal, counts");

  // legend
  const lg = g.append("g");
  cfg.names.forEach((name, i) => {
    const ly = cfg.legend.y0 + i * cfg.legend.step;
    lg.append("circle").attr("cx", cfg.legend.x).attr("cy", ly).attr("r", 3.5)
      .attr("fill", seriesColors[i]);
    lg.append("text").attr("x", cfg.legend.x + 17).attr("y", ly).attr("dy", "0.35em")
      .attr("fill", "#595959").style("font-size", "26.5px").text(name);
  });

  drawTitle(g, cfg.title, cfg.titlePos[0], cfg.titlePos[1], cfg.titlePos[2]);
}

drawChart({
  frame: [8, 6, 1150, 606],
  left: 164, right: 849, top: 80, bottom: 494,
  xTicks: xTicks633, yTicks: yTicks633,
  start: start633, step: step633,
  series: [control633, cdteSC633, cdsesSC633, onlyCdses633, onlyCdte633],
  names: names633,
  xTitleY: 589,
  yTitle: [66, 281],
  legend: { x: 836, y0: 201, step: 54 },
  title: [
    { text: "Emission spectra, CdSeS/ZnS  and CdTe QDs on " },
    { text: "silver film", underline: true },
    { text: ", " },
    { text: "633 nm", big: true },
    { text: ", x100" }
  ],
  titlePos: [42, 53, 1021]
});

drawChart({
  frame: [8, 628, 1150, 640],
  left: 187, right: 866, top: 715, bottom: 1118,
  xTicks: xTicks532, yTicks: yTicks532,
  start: start532, step: step532,
  series: [control532, cdsesSC532, cdteSC532, onlyCdses532, onlyCdte532],
  names: names532,
  xTitleY: 1212,
  yTitle: [86, 915],
  legend: { x: 824, y0: 727, step: 61.75 },
  title: [
    { text: "Emission spectra, CdSeS/ZnS  and CdTe QDs on " },
    { text: "silver film", underline: true },
    { text: ", " },
    { text: "532 nm", big: true },
    { text: ", x100" }
  ],
  titlePos: [62, 681, 1023]
});
</script>
</body>
</html>
